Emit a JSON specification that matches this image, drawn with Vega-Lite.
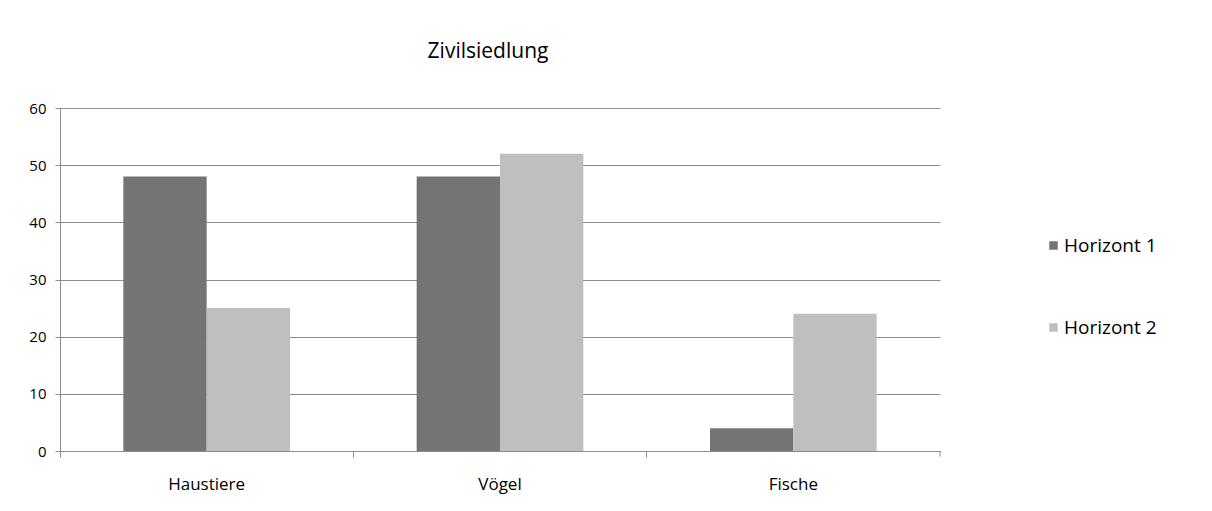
{
  "$schema": "https://vega.github.io/schema/vega-lite/v6.json",
  "autosize": {"type": "none"},
  "padding": {"left": 60, "top": 108, "right": 272, "bottom": 60},
  "width": 880,
  "height": 343,
  "background": "white",
  "config": {
    "view": {"stroke": null},
    "font": "Open Sans"
  },
  "title": {
    "text": "Zivilsiedlung",
    "fontSize": 21,
    "fontWeight": "normal",
    "font": "Open Sans",
    "color": "#000000",
    "anchor": "middle",
    "dx": -12,
    "offset": 39
  },
  "data": {
    "values": [
      {"kategorie": "Haustiere", "serie": "Horizont 1", "wert": 48},
      {"kategorie": "Haustiere", "serie": "Horizont 2", "wert": 25},
      {"kategorie": "Vögel", "serie": "Horizont 1", "wert": 48},
      {"kategorie": "Vögel", "serie": "Horizont 2", "wert": 52},
      {"kategorie": "Fische", "serie": "Horizont 1", "wert": 4},
      {"kategorie": "Fische", "serie": "Horizont 2", "wert": 24}
    ]
  },
  "layer": [
    {
      "mark": {"type": "bar"},
      "encoding": {
        "x": {
          "field": "kategorie",
          "type": "nominal",
          "scale": {"domain": ["Haustiere", "Vögel", "Fische"], "paddingInner": 0, "paddingOuter": 0},
          "axis": {
            "title": null,
            "bandPosition": 0,
            "labelAngle": 0,
            "labelFontSize": 17,
            "labelColor": "#000000",
            "labelPadding": 19,
            "labelOffset": 0,
            "tickSize": 6,
            "tickColor": "#8c8c8c",
            "domainColor": "#8c8c8c",
            "grid": false
          }
        },
        "xOffset": {
          "field": "serie",
          "type": "nominal",
          "scale": {"paddingInner": 0, "paddingOuter": 0.76}
        },
        "y": {
          "field": "wert",
          "type": "quantitative",
          "scale": {"domain": [0, 60], "nice": false},
          "axis": {
            "title": null,
            "values": [0, 10, 20, 30, 40, 50, 60],
            "labelFontSize": 15,
            "labelColor": "#000000",
            "labelPadding": 9,
            "tickSize": 5,
            "tickColor": "#8c8c8c",
            "domainColor": "#8c8c8c",
            "gridColor": "#8c8c8c",
            "gridOpacity": 1
          }
        },
        "color": {
          "field": "serie",
          "type": "nominal",
          "scale": {"domain": ["Horizont 1", "Horizont 2"], "range": ["#747474", "#bfbfbf"]},
          "legend": {
            "title": null,
            "orient": "none",
            "legendX": 984,
            "legendY": 128,
            "symbolType": "square",
            "symbolSize": 72,
            "symbolStrokeWidth": 0,
            "labelFontSize": 19,
            "labelColor": "#000000",
            "labelOffset": 1,
            "rowPadding": 62
          }
        }
      }
    },
    {
      "data": {"values": [{"kategorie": "Fische", "von": 0, "bis": -1}]},
      "mark": {"type": "rule", "color": "#8c8c8c", "clip": false},
      "encoding": {
        "x": {"field": "kategorie", "type": "nominal", "bandPosition": 1},
        "y": {"field": "von", "type": "quantitative"},
        "y2": {"field": "bis"}
      }
    }
  ]
}
